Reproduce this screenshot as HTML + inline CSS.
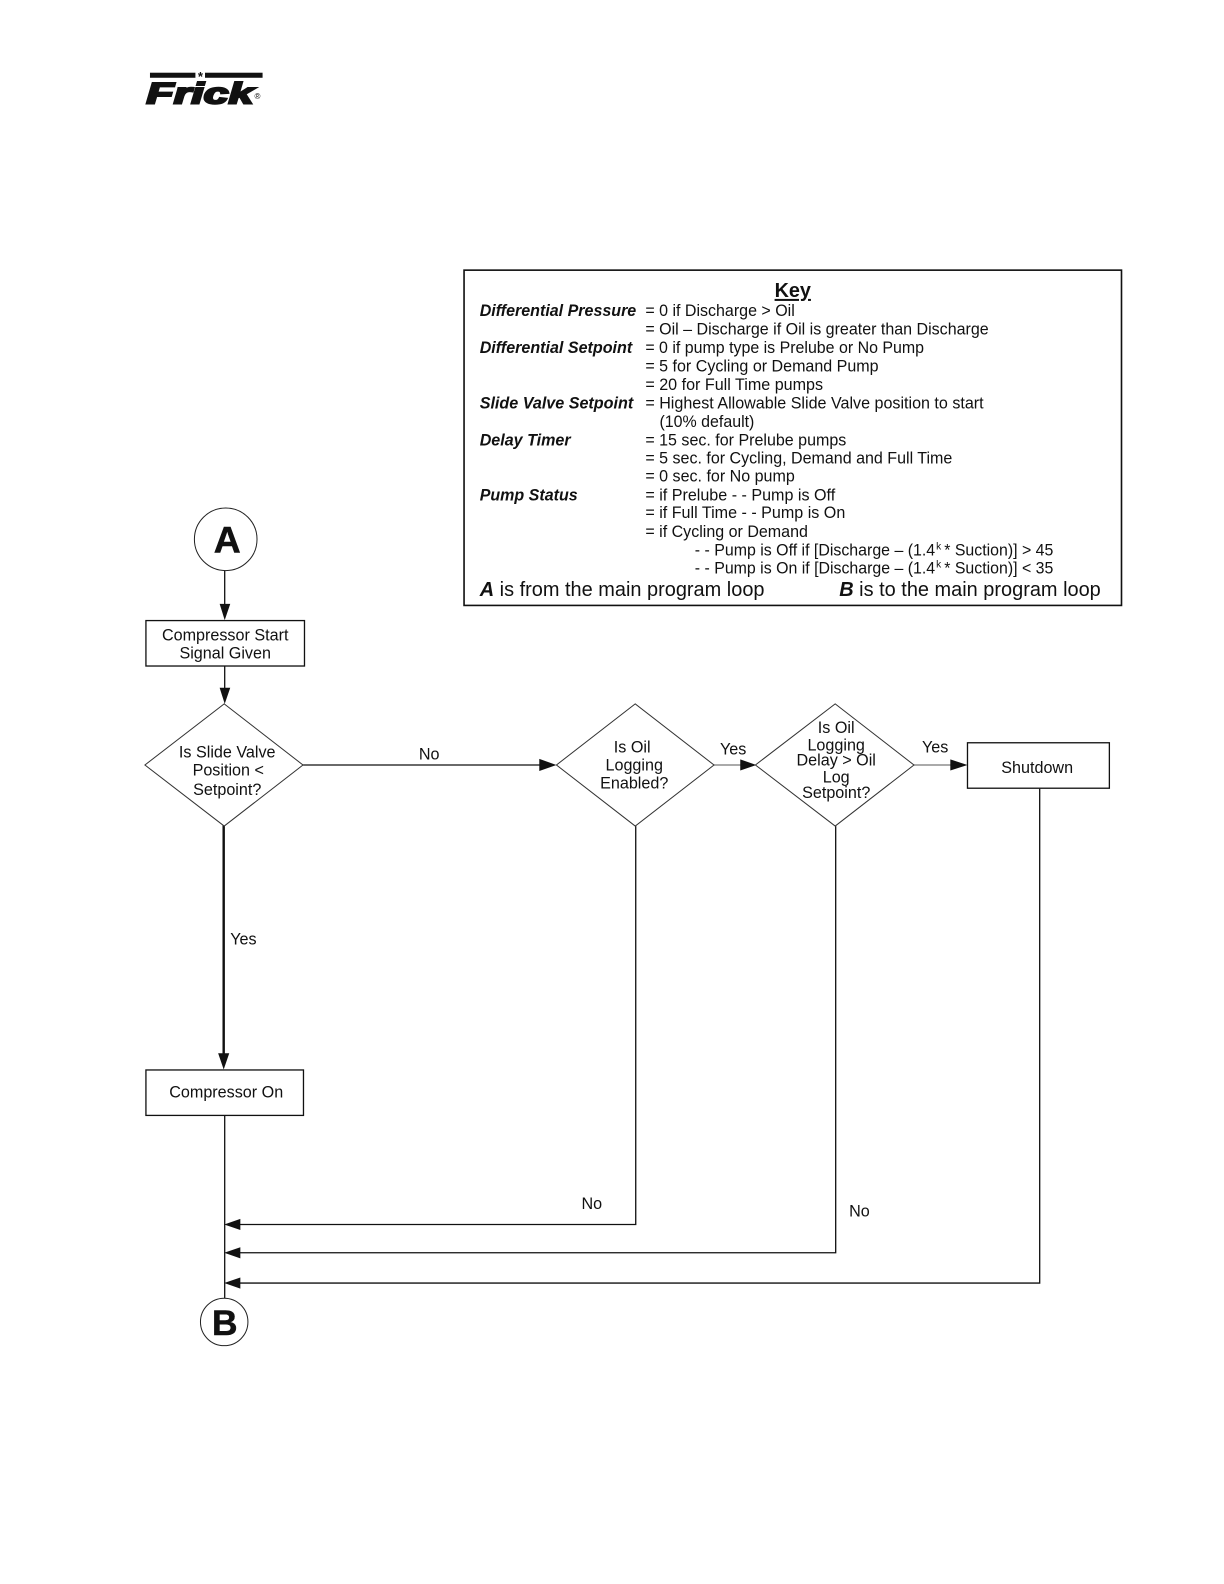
<!DOCTYPE html>
<html><head><meta charset="utf-8"><style>
html,body{margin:0;padding:0;background:#fff}
svg{display:block}
text{font-family:"Liberation Sans",sans-serif;fill:#111}
.k{font-size:16px}
.l{font-size:16px;font-weight:bold;font-style:italic}
.f{font-size:16px;text-anchor:middle}
</style></head><body>
<svg width="1224" height="1584" viewBox="0 0 1212 1568.5" preserveAspectRatio="none" xmlns="http://www.w3.org/2000/svg">
<rect width="1224" height="1584" fill="#fff"/>
<!-- logo -->
<rect x="148.5" y="72" width="45" height="5" fill="#111"/>
<rect x="203" y="72" width="57" height="5" fill="#111"/>
<text x="198.5" y="80" font-size="13" font-weight="bold" text-anchor="middle">*</text>
<text x="145" y="102.5" style="font-size:29px;font-weight:bold;font-style:italic;stroke:#111;stroke-width:2" textLength="106" lengthAdjust="spacingAndGlyphs">Frick</text>
<text x="252" y="98" style="font-size:8px">®</text>
<!-- key -->
<rect x="459.5" y="267.5" width="651" height="332" fill="none" stroke="#111" stroke-width="1.6"/>
<text x="767" y="294" style="font-size:20px;font-weight:bold;text-decoration:underline" textLength="36" lengthAdjust="spacingAndGlyphs">Key</text>
<text class="l" x="475" y="313" textLength="155" lengthAdjust="spacingAndGlyphs">Differential Pressure</text>
<text class="l" x="475" y="349.5" textLength="151" lengthAdjust="spacingAndGlyphs">Differential Setpoint</text>
<text class="l" x="475" y="404.5" textLength="152" lengthAdjust="spacingAndGlyphs">Slide Valve Setpoint</text>
<text class="l" x="475" y="441" textLength="90" lengthAdjust="spacingAndGlyphs">Delay Timer</text>
<text class="l" x="475" y="495.5" textLength="97" lengthAdjust="spacingAndGlyphs">Pump Status</text>
<text class="k" x="639" y="313" textLength="148" lengthAdjust="spacingAndGlyphs">= 0 if Discharge &gt; Oil</text>
<text class="k" x="639" y="331" textLength="340" lengthAdjust="spacingAndGlyphs">= Oil – Discharge if Oil is greater than Discharge</text>
<text class="k" x="639" y="349.5" textLength="276" lengthAdjust="spacingAndGlyphs">= 0 if pump type is Prelube or No Pump</text>
<text class="k" x="639" y="368" textLength="231" lengthAdjust="spacingAndGlyphs">= 5 for Cycling or Demand Pump</text>
<text class="k" x="639" y="386" textLength="176" lengthAdjust="spacingAndGlyphs">= 20 for Full Time pumps</text>
<text class="k" x="639" y="404.5" textLength="335" lengthAdjust="spacingAndGlyphs">= Highest Allowable Slide Valve position to start</text>
<text class="k" x="653" y="423" textLength="94" lengthAdjust="spacingAndGlyphs">(10% default)</text>
<text class="k" x="639" y="441" textLength="199" lengthAdjust="spacingAndGlyphs">= 15 sec. for Prelube pumps</text>
<text class="k" x="639" y="459" textLength="304" lengthAdjust="spacingAndGlyphs">= 5 sec. for Cycling, Demand and Full Time</text>
<text class="k" x="639" y="477" textLength="148" lengthAdjust="spacingAndGlyphs">= 0 sec. for No pump</text>
<text class="k" x="639" y="495.5" textLength="188" lengthAdjust="spacingAndGlyphs">= if Prelube - - Pump is Off</text>
<text class="k" x="639" y="513" textLength="198" lengthAdjust="spacingAndGlyphs">= if Full Time - - Pump is On</text>
<text class="k" x="639" y="532" textLength="161" lengthAdjust="spacingAndGlyphs">= if Cycling or Demand</text>
<text class="k" x="688" y="550" textLength="238" lengthAdjust="spacingAndGlyphs">- - Pump is Off if [Discharge – (1.4</text>
<text x="927" y="544" style="font-size:10px">k</text>
<text class="k" x="935" y="550" textLength="108" lengthAdjust="spacingAndGlyphs">* Suction)] &gt; 45</text>
<text class="k" x="688" y="568" textLength="238" lengthAdjust="spacingAndGlyphs">- - Pump is On if [Discharge – (1.4</text>
<text x="927" y="562" style="font-size:10px">k</text>
<text class="k" x="935" y="568" textLength="108" lengthAdjust="spacingAndGlyphs">* Suction)] &lt; 35</text>
<text x="475" y="590" style="font-size:20px" textLength="282" lengthAdjust="spacingAndGlyphs"><tspan font-weight="bold" font-style="italic">A</tspan> is from the main program loop</text>
<text x="831" y="590" style="font-size:20px" textLength="259" lengthAdjust="spacingAndGlyphs"><tspan font-weight="bold" font-style="italic">B</tspan> is to the main program loop</text>
<!-- connectors -->
<g fill="none" stroke="#111" stroke-width="1.3">
<line x1="222.5" y1="564" x2="222.5" y2="600"/>
<line x1="222.5" y1="660" x2="222.5" y2="683"/>
<line x1="299" y1="757.5" x2="536" y2="757.5"/>
<line x1="707" y1="757.5" x2="735" y2="757.5" stroke="#777"/>
<line x1="905" y1="757.5" x2="942" y2="757.5" stroke="#777"/>
<line x1="221.5" y1="817" x2="221.5" y2="1045" stroke-width="2.4"/>
<line x1="222.5" y1="1104" x2="222.5" y2="1289"/>
<polyline points="629.5,818 629.5,1212.5 236,1212.5"/>
<polyline points="827.5,818 827.5,1240.5 236,1240.5"/>
<polyline points="1029.5,781 1029.5,1270.5 236,1270.5"/>
</g>
<!-- arrowheads -->
<g fill="#111">
<polygon points="217.5,598 228,598 222.5,614"/>
<polygon points="217.5,681 228,681 222.5,697"/>
<polygon points="534,751.5 551,757.5 534,763.5"/>
<polygon points="733,752 749,757.5 733,763"/>
<polygon points="941,752 958,757.5 941,763"/>
<polygon points="216,1043 227,1043 221.5,1059"/>
<polygon points="222,1212.5 238,1207 238,1218"/>
<polygon points="222,1240.5 238,1235 238,1246"/>
<polygon points="222,1270.5 238,1265 238,1276"/>
</g>
<!-- nodes -->
<g fill="#fff" stroke="#222" stroke-width="1">
<circle cx="223.5" cy="534" r="31"/>
<circle cx="222" cy="1309" r="23.5"/>
</g>
<g fill="#fff" stroke="#111" stroke-width="1.3">
<rect x="144.5" y="614.5" width="157" height="45"/>
<rect x="144.5" y="1059.5" width="156" height="45"/>
<rect x="958" y="735.5" width="140.5" height="45"/>
</g>
<g fill="#fff" stroke="#333" stroke-width="1">
<polygon points="222,697 300,757.5 222,818 143.5,757.5"/>
<polygon points="629,697 707,757.5 629,818 551,757.5"/>
<polygon points="827,697 905,757.5 827,818 748,757.5"/>
</g>
<!-- circle labels -->
<text x="225" y="547" style="font-size:37px;font-weight:bold;text-anchor:middle;stroke:#111;stroke-width:.5">A</text>
<text x="222.5" y="1322" style="font-size:35px;font-weight:bold;text-anchor:middle;stroke:#111;stroke-width:.5">B</text>
<!-- node labels -->
<text class="f" x="223" y="634">Compressor Start</text>
<text class="f" x="223" y="652">Signal Given</text>
<text class="f" x="225" y="750">Is Slide Valve</text>
<text class="f" x="226" y="768">Position &lt;</text>
<text class="f" x="225" y="787">Setpoint?</text>
<text class="f" x="626" y="745">Is Oil</text>
<text class="f" x="628" y="763">Logging</text>
<text class="f" x="628" y="781">Enabled?</text>
<text class="f" x="828" y="726">Is Oil</text>
<text class="f" x="828" y="743">Logging</text>
<text class="f" x="828" y="758">Delay &gt; Oil</text>
<text class="f" x="828" y="775">Log</text>
<text class="f" x="828" y="790">Setpoint?</text>
<text class="f" x="1027" y="765.5">Shutdown</text>
<text class="f" x="224" y="1087">Compressor On</text>
<!-- connector labels -->
<text class="f" x="425" y="752">No</text>
<text class="f" x="726" y="747">Yes</text>
<text class="f" x="926" y="745">Yes</text>
<text class="f" x="241" y="935.5">Yes</text>
<text class="f" x="586" y="1197">No</text>
<text class="f" x="851" y="1204.5">No</text>
</svg>
</body></html>
